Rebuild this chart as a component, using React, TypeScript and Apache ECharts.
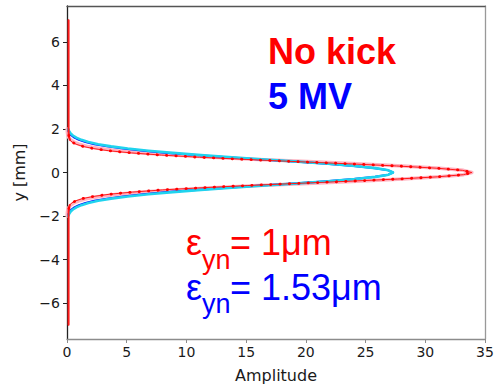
import React, { useEffect, useRef } from "react";
import * as echarts from "echarts";

// Vertical positions (mm) shared by all profiles, from top to bottom
const yPos = [
  7, 6, 5, 4, 3, 2.5,
  2.0, 1.9, 1.8, 1.7, 1.6, 1.5, 1.4, 1.3, 1.2, 1.1, 1.0, 0.9, 0.8, 0.7, 0.6, 0.5, 0.4, 0.3, 0.2, 0.1, 0,
  -0.1, -0.2, -0.3, -0.4, -0.5, -0.6, -0.7, -0.8, -0.9, -1.0, -1.1, -1.2, -1.3, -1.4, -1.5, -1.6, -1.7, -1.8, -1.9, -2.0,
  -2.5, -3, -4, -5, -6, -7,
];

// No kick: measured profile
const noKickAmp = [
  0.13, 0.13, 0.13, 0.13, 0.13, 0.13,
  0.13, 0.13, 0.14, 0.15, 0.18, 0.25, 0.42, 0.76, 1.32, 2.2, 3.5, 5.4, 7.9, 11.1, 15.0, 19.2, 23.6, 27.6, 30.9, 33.1, 33.9,
  33.2, 31.0, 27.7, 23.7, 19.3, 15.1, 11.3, 8.0, 5.5, 3.55, 2.2, 1.3, 0.74, 0.4, 0.23, 0.17, 0.14, 0.13, 0.13, 0.13,
  0.13, 0.13, 0.13, 0.13, 0.13, 0.13,
];

// No kick: fitted profile
const noKickFit = [
  0, 0, 0, 0, 0, 0,
  0.01, 0.02, 0.04, 0.08, 0.16, 0.31, 0.57, 1.0, 1.69, 2.73, 4.23, 6.27, 8.94, 12.22, 16.02, 20.14, 24.29, 28.11, 31.19, 33.2, 33.9,
  33.2, 31.19, 28.11, 24.29, 20.14, 16.02, 12.22, 8.94, 6.27, 4.23, 2.73, 1.69, 1.0, 0.57, 0.31, 0.16, 0.08, 0.04, 0.02, 0.01,
  0, 0, 0, 0, 0, 0,
];

// 5 MV kick: measured profile
const kickAmp = [
  0.03, 0.03, 0.03, 0.03, 0.04, 0.05,
  0.1, 0.13, 0.22, 0.38, 0.62, 1.0, 1.55, 2.3, 3.35, 4.7, 6.4, 8.4, 10.8, 13.4, 16.2, 19.0, 21.7, 24.0, 25.8, 26.9, 27.3,
  26.9, 25.8, 24.0, 21.7, 19.0, 16.2, 13.4, 10.8, 8.4, 6.4, 4.7, 3.35, 2.3, 1.55, 1.0, 0.62, 0.38, 0.22, 0.13, 0.1,
  0.05, 0.04, 0.03, 0.03, 0.03, 0.03,
];

// 5 MV kick: fitted profile
const kickFit = [
  0, 0, 0, 0, 0, 0.01,
  0.1, 0.18, 0.3, 0.49, 0.78, 1.2, 1.79, 2.61, 3.69, 5.08, 6.81, 8.86, 11.22, 13.82, 16.56, 19.29, 21.86, 24.09, 25.82, 26.92, 27.3,
  26.92, 25.82, 24.09, 21.86, 19.29, 16.56, 13.82, 11.22, 8.86, 6.81, 5.08, 3.69, 2.61, 1.79, 1.2, 0.78, 0.49, 0.3, 0.18, 0.1,
  0.01, 0, 0, 0, 0, 0,
];

const yTicks = [-6, -4, -2, 0, 2, 4, 6];

const FONT_AXIS = "DejaVu Sans";
const FONT_NOTE = "Liberation Sans, Arial, sans-serif";

const pairs = (amp: number[]) => yPos.map((y, i) => [amp[i], y]);
// points within |y| <= lim (the tails lie on the axis, under the red trace)
const within = (amp: number[], lim: number) =>
  pairs(amp).filter((p) => Math.abs(p[1]) <= lim);
const above = (amp: number[], lim: number) => pairs(amp).filter((p) => p[1] >= lim);
const below = (amp: number[], lim: number) => pairs(amp).filter((p) => p[1] <= lim);

export default function App() {
  const ref = useRef<HTMLDivElement>(null);

  useEffect(() => {
    if (!ref.current) return;
    const chart = echarts.init(ref.current, undefined, { renderer: "svg" });

    const note = (x: number, y: number, text: string, size: number, color: string, bold = false) => ({
      type: "text",
      x,
      y,
      silent: true,
      style: {
        text,
        fill: color,
        fontSize: size,
        fontFamily: FONT_NOTE,
        fontWeight: bold ? "bold" : "normal",
        align: "left",
        verticalAlign: "middle",
      },
    });

    const line = (data: number[][], color: string, width: number, z: number, dash?: number[]) => ({
      type: "line",
      data,
      showSymbol: false,
      symbol: "none",
      z,
      silent: true,
      lineStyle: {
        color,
        width,
        type: dash ?? "solid",
        cap: "round",
        join: "round",
      },
    });

    chart.setOption({
      animation: false,
      backgroundColor: "#ffffff",
      grid: { left: 67, right: 13, top: 6, bottom: 47, outerBoundsMode: "none" },
      xAxis: [
        {
          type: "value",
          min: 0,
          max: 35,
          interval: 5,
          position: "bottom",
          name: "Amplitude",
          nameLocation: "middle",
          nameGap: 28,
          nameTextStyle: { fontFamily: FONT_AXIS, fontSize: 16, color: "#1a1a1a" },
          axisLine: { onZero: false, lineStyle: { color: "#8c8c8c", width: 1.3 } },
          axisTick: { show: true, inside: false, length: 4, lineStyle: { color: "#8c8c8c" } },
          axisLabel: { fontFamily: FONT_AXIS, fontSize: 14, color: "#1a1a1a", margin: 6 },
          splitLine: { show: false },
        },
        {
          type: "value",
          min: 0,
          max: 35,
          position: "top",
          axisLine: { onZero: false, lineStyle: { color: "#555555", width: 1.3 } },
          axisTick: { show: false },
          axisLabel: { show: false },
          splitLine: { show: false },
        },
      ],
      yAxis: [
        {
          type: "value",
          min: -7.65,
          max: 7.65,
          position: "left",
          name: "y [mm]",
          nameLocation: "middle",
          nameRotate: 90,
          nameGap: 40,
          nameTextStyle: { fontFamily: FONT_AXIS, fontSize: 16, color: "#1a1a1a" },
          axisLine: { onZero: false, lineStyle: { color: "#222222", width: 1.3 } },
          axisTick: {
            show: true,
            inside: false,
            length: 4,
            customValues: yTicks,
            lineStyle: { color: "#222222" },
          },
          axisLabel: {
            fontFamily: FONT_AXIS,
            fontSize: 14,
            color: "#1a1a1a",
            margin: 7,
            customValues: yTicks,
            formatter: (v: number) => String(v).replace("-", "\u2212"),
          },
          splitLine: { show: false },
        },
        {
          type: "value",
          min: -7.65,
          max: 7.65,
          position: "right",
          axisLine: { onZero: false, lineStyle: { color: "#999999", width: 1.3 } },
          axisTick: { show: false },
          axisLabel: { show: false },
          splitLine: { show: false },
        },
      ],
      series: [
        line(within(noKickFit, 2.0), "#ffb3c1", 3.5, 1),
        line(within(kickAmp, 2.0), "#0000ff", 2, 2),
        line(within(kickFit, 2.0), "#1fd3ee", 2.6, 3),
        line(pairs(noKickAmp), "#ff1a1a", 1, 4),
        line(above(noKickAmp, 1.5), "#ff1a1a", 2, 4),
        line(below(noKickAmp, -1.5), "#ff1a1a", 2, 4),
        line(within(noKickAmp, 1.7), "#ff0000", 2.8, 5, [0.4, 9]),
      ],
      graphic: [
        note(268, 51.5, "No kick", 36, "#ff0000", true),
        note(268, 96.5, "5 MV", 36, "#0000ff", true),
        note(186, 242.5, "ε", 36, "#ff0000"),
        note(202, 260, "yn", 27, "#ff0000"),
        note(230, 242.5, "= 1μm", 36, "#ff0000"),
        note(186, 287, "ε", 36, "#0000ff"),
        note(202, 304, "yn", 27, "#0000ff"),
        note(230, 287, "= 1.53μm", 36, "#0000ff"),
      ],
    });

    return () => chart.dispose();
  }, []);

  return (
    <div
      ref={ref}
      style={{ position: "absolute", left: 0, top: 0, width: 498, height: 386 }}
    />
  );
}
